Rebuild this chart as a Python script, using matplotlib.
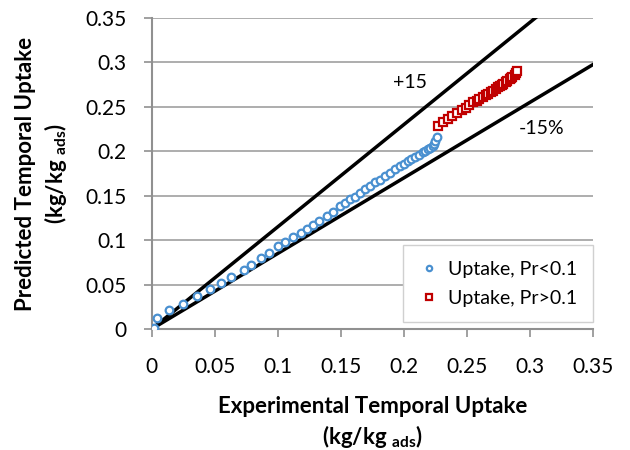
import numpy as np
import matplotlib
matplotlib.use("Agg")
from matplotlib import pyplot as plt

plt.rcParams['font.family'] = ['Lato', 'DejaVu Sans']
plt.rcParams['mathtext.fontset'] = 'custom'
plt.rcParams['mathtext.rm'] = 'Lato'
plt.rcParams['mathtext.bf'] = 'Lato:bold'

# blue series: uptake, Pr < 0.1
exp_low = [0.002, 0.004, 0.014, 0.025, 0.036, 0.046, 0.055, 0.063, 0.073, 0.079,
           0.087, 0.093, 0.100, 0.106, 0.112, 0.118, 0.123, 0.128, 0.133, 0.139,
           0.144, 0.149, 0.153, 0.157, 0.161, 0.165, 0.169, 0.173, 0.177, 0.181,
           0.185, 0.189, 0.193, 0.197, 0.200, 0.203, 0.206, 0.209, 0.212, 0.215,
           0.217, 0.219, 0.221, 0.223, 0.224, 0.225, 0.226]
pred_low = [0.001, 0.012, 0.021, 0.028, 0.037, 0.045, 0.052, 0.059, 0.066, 0.072,
            0.080, 0.086, 0.093, 0.098, 0.103, 0.108, 0.112, 0.117, 0.122, 0.127,
            0.132, 0.138, 0.142, 0.146, 0.149, 0.153, 0.157, 0.161, 0.165, 0.168,
            0.172, 0.176, 0.180, 0.183, 0.186, 0.189, 0.191, 0.194, 0.196, 0.199,
            0.200, 0.202, 0.204, 0.206, 0.208, 0.211, 0.216]

# red series: uptake, Pr > 0.1
exp_high = [0.227, 0.231, 0.235, 0.238, 0.242, 0.246, 0.249, 0.252, 0.255, 0.258,
            0.260, 0.263, 0.265, 0.267, 0.269, 0.271, 0.273, 0.275, 0.276, 0.278,
            0.279, 0.281, 0.282, 0.284, 0.285, 0.286, 0.288, 0.289, 0.290]
pred_high = [0.228, 0.233, 0.236, 0.240, 0.243, 0.246, 0.249, 0.252, 0.255, 0.257,
             0.259, 0.261, 0.263, 0.265, 0.267, 0.268, 0.270, 0.272, 0.273, 0.275,
             0.276, 0.278, 0.279, 0.281, 0.282, 0.284, 0.286, 0.288, 0.290]

ticks = [0, 0.05, 0.1, 0.15, 0.2, 0.25, 0.3, 0.35]
tick_labels = ['0', '0.05', '0.1', '0.15', '0.2', '0.25', '0.3', '0.35']
bounds = [0, 0.35]

fig = plt.figure(figsize=(6.3, 4.5), dpi=100)
ax = fig.add_axes([0.241, 0.269, 0.700, 0.691])

# +/-15% lines
xs = np.array(bounds)
ax.plot(xs, 1.15 * xs, color='black', lw=2.5, zorder=2)
ax.plot(xs, 0.85 * xs, color='black', lw=2.5, zorder=2)

ax.plot(exp_low, pred_low, 'o', ms=5.5, mfc='white', mec='#4a90d0', mew=1.6,
        label='Uptake, Pr<0.1', zorder=3)
ax.plot(exp_high, pred_high, 's', ms=5.5, mfc='white', mec='#c00000', mew=1.6,
        label='Uptake, Pr>0.1', zorder=3)

ax.text(0.205, 0.277, '+15', fontsize=14, ha='center', va='center')
ax.text(0.309, 0.226, '-15%', fontsize=14, ha='center', va='center')

ax.set_xlim(bounds)
ax.set_ylim(bounds)
ax.set_xticks(ticks)
ax.set_xticklabels(tick_labels)
ax.set_yticks(ticks)
ax.set_yticklabels(tick_labels)
ax.tick_params(labelsize=15, color='#909090', length=6, width=1.2)
ax.tick_params(axis='x', pad=14)
ax.tick_params(axis='y', pad=12)
ax.grid(axis='y', color='#a0a0a0', lw=1.2)
ax.set_axisbelow(True)
for s in ['top', 'right']:
    ax.spines[s].set_visible(False)
for s in ['left', 'bottom']:
    ax.spines[s].set_color('#909090')
    ax.spines[s].set_linewidth(1.5)

ax.set_xlabel('Experimental Temporal Uptake\n(kg/kg $_{\\mathbf{ads}}$)',
              fontsize=16, fontweight='bold', labelpad=14, linespacing=1.3)
ax.set_ylabel('Predicted Temporal Uptake\n(kg/kg $_{\\mathbf{ads}}$)',
              fontsize=16, fontweight='bold', labelpad=12, linespacing=1.3)

leg = ax.legend(loc='lower right', fontsize=14, markerscale=0.7, handlelength=1.0,
                handletextpad=0.5, borderpad=0.8, labelspacing=0.6, fancybox=False,
                framealpha=1, edgecolor='#d0d0d0', borderaxespad=0,
                bbox_to_anchor=(1.0, 0.022))

fig.savefig('out.png', dpi=100)
